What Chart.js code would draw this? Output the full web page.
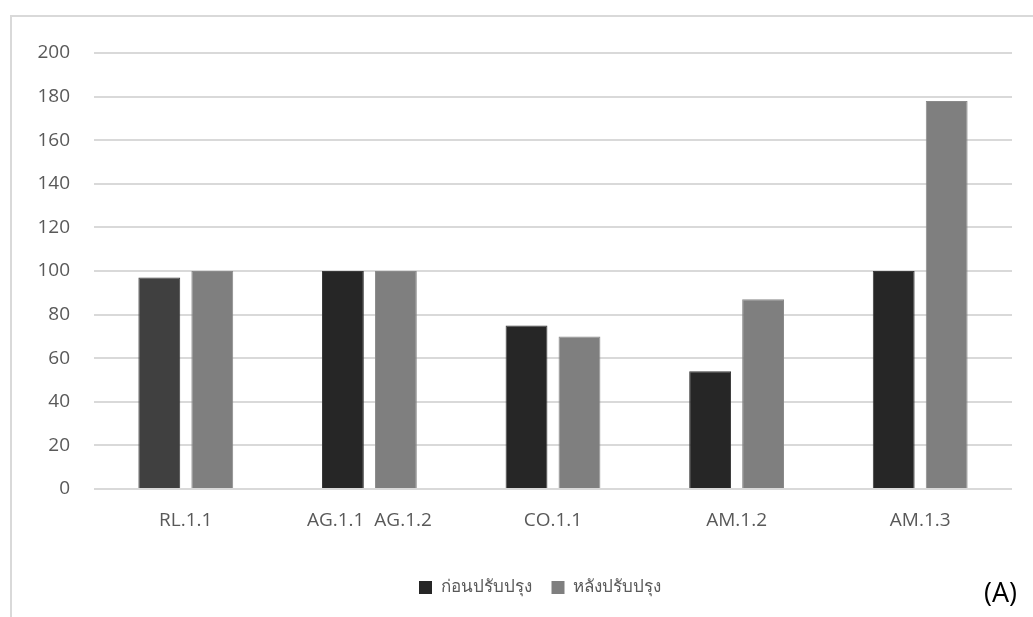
<!DOCTYPE html>
<html>
<head>
<meta charset="utf-8">
<script src="https://cdn.jsdelivr.net/npm/chart.js@4/dist/chart.umd.min.js"></script>
<style>
  html, body { margin: 0; padding: 0; background: #fff; }
  #wrap { position: relative; width: 1033px; height: 617px; overflow: hidden; }
  #frame {
    position: absolute; left: 10px; top: 15px; width: 1100px; height: 700px;
    border-left: 2px solid #d9d9d9; border-top: 2px solid #d9d9d9; box-sizing: border-box;
  }
  #tag {
    position: absolute; left: 984px; top: 573px;
    font: 27px "Open Sans", sans-serif; color: #000;
  }
  canvas { position: absolute; left: 0; top: 0; }
</style>
</head>
<body>
<div id="wrap">
  <div id="frame"></div>
  <canvas id="chart" width="1033" height="617"></canvas>
  <div id="tag">(A)</div>
</div>
<script>
// categories + two series (before / after improvement)
const categories = ['RL.1.1', 'AG.1.1  AG.1.2', 'CO.1.1', 'AM.1.2', 'AM.1.3'];
const seriesNames = ['ก่อนปรับปรุง', 'หลังปรับปรุง'];
const beforeVals = [97, 100, 75, 54, 100];
const afterVals = [100, 100, 70, 87, 178];
const yTicks = [0, 20, 40, 60, 80, 100, 120, 140, 160, 180, 200];

const darkFill = ['#404040', '#262626', '#262626', '#262626', '#262626'];
const greyFill = '#7f7f7f';
const txt = '#595959';
const font = { family: '"Open Sans", sans-serif', size: 19 };

// the outer frame runs past the right edge, so the legend sits right of canvas centre
const legendShift = {
  id: 'legendShift',
  afterLayout(chart) {
    chart.legend.left += 34;
    chart.legend.right += 34;
  },
};

new Chart(document.getElementById('chart'), {
  type: 'bar',
  data: {
    labels: categories,
    datasets: [
      {
        label: seriesNames[0],
        data: beforeVals,
        backgroundColor: darkFill,
        borderColor: '#3a3a3a',
        borderWidth: 1,
        categoryPercentage: 0.577,
        barPercentage: 0.79,
      },
      {
        label: seriesNames[1],
        data: afterVals,
        backgroundColor: greyFill,
        borderColor: '#8a8a8a',
        borderWidth: 1,
        categoryPercentage: 0.577,
        barPercentage: 0.79,
      },
    ],
  },
  plugins: [legendShift],
  options: {
    responsive: false,
    animation: false,
    layout: { padding: { left: 0, right: 21, top: 53, bottom: 11 } },
    plugins: {
      tooltip: { enabled: false },
      legend: {
        position: 'bottom',
        labels: {
          color: txt,
          font: { family: '"Open Sans", sans-serif', size: 17 },
          boxWidth: 13,
          boxHeight: 13,
          padding: 20,
          generateLabels: (chart) => {
            const items = Chart.defaults.plugins.legend.labels.generateLabels(chart);
            items[0].fillStyle = '#262626';
            items.forEach(it => { it.lineWidth = 0; });
            return items;
          },
        },
      },
    },
    scales: {
      x: {
        grid: { display: false },
        border: { display: false },
        ticks: { color: txt, font, padding: 12, maxRotation: 0 },
        afterFit: (s) => { s.height = 70; },
      },
      y: {
        min: 0,
        max: 200,
        afterBuildTicks: (s) => { s.ticks = yTicks.map(v => ({ value: v })); },
        grid: { color: '#d9d9d9', lineWidth: 2, drawTicks: false },
        border: { display: false },
        ticks: { color: txt, font, padding: 24 },
        afterFit: (s) => { s.width = 94; },
      },
    },
  },
});
</script>
</body>
</html>
